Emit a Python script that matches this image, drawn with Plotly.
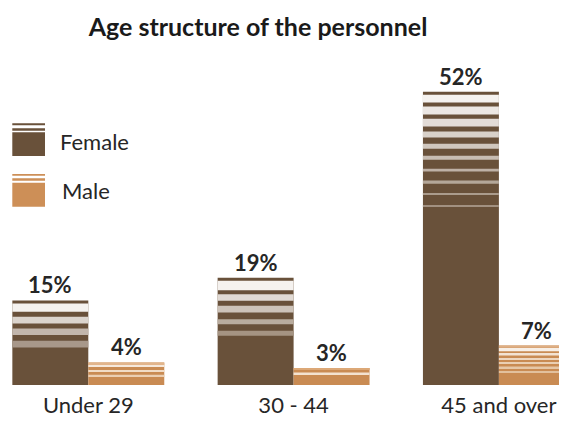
import plotly.graph_objects as go

# ---------------- data ----------------
categories = ["Under 29", "30 - 44", "45 and over"]
series_names = ["Female", "Male"]
female = [15, 19, 52]
male = [4, 3, 7]
female_labels = ["15%", "19%", "52%"]
male_labels = ["4%", "3%", "7%"]

# ---------------- style ----------------
SHIFT = 8                      # browser body margin offsets the figure by 8px
W, H = 567 - SHIFT, 421 - SHIFT
MB, MT = 36, 0
PLOT_H = H - MB - MT
YMAX = PLOT_H / 5.64
U = YMAX / PLOT_H              # data units per pixel (for decorative stripes)
X0_PX = 88.3 - SHIFT           # pixel of first category centre
CAT_PX = 205.3                 # pixels per category
XMIN = -X0_PX / CAT_PX
XMAX = (W - X0_PX) / CAT_PX
BAR_W = 0.37
OFF = 0.185

DARK = "#69513A"
ORANGE = "#C98B53"
TEXT = "#262626"
FONT = "Lato"


def lerp_color(c0, c1, t):
    a = [int(c0[i:i + 2], 16) for i in (1, 3, 5)]
    b = [int(c1[i:i + 2], 16) for i in (1, 3, 5)]
    return "#" + "".join(f"{round(a[k] + (b[k] - a[k]) * t):02X}" for k in range(3))


def grad_bands(offsets, heights, c0, c1):
    n = len(offsets)
    return [(o, h, lerp_color(c0, c1, i / max(n - 1, 1))) for i, (o, h) in enumerate(zip(offsets, heights))]


# decorative stripes: (offset from bar top px, height px, colour)
female_stripes = [
    grad_bands([3, 16.3, 28, 40.3], [8.3, 6.7, 6.7, 6.7], "#F5F2EF", "#A8988A"),
    grad_bands([3, 16.3, 28, 41.3, 53], [9.3, 6.7, 6.7, 5, 5], "#F5F2EF", "#A59483"),
    grad_bands([3, 14.7, 27, 39.7, 52, 64, 77, 88.7, 101.3, 114],
               [7.7, 8, 7.7, 6, 5, 4, 2.7, 3.3, 1.7, 1.2], "#F5F2EF", "#A29181"),
]
male_stripes = [
    [(0, 1.7, "#E2B58C"), (3, 1.3, "#F6E9DC"), (7.7, 1.3, "#F1DCC6"), (12.3, 1.3, "#EBCFB3")],
    [(0, 1.5, "#DCA877"), (4.5, 1.7, "#F3E2D0")],
    [(0, 2.3, "#DEAF85"), (2.4, 3.3, "#F7EFE7"), (7.4, 2.6, "#F3E3D3"), (12.4, 1.7, "#EED7C0"),
     (16.7, 1.7, "#EACFB3"), (21, 1.7, "#E6C7A7"), (25.7, 1.3, "#E2C09D")],
]

fig = go.Figure()


def add_bar(xc, value, color, stripes, name):
    xs = [xc]
    ys = [value]
    bases = [0]
    cols = [color]
    for off, h, c in stripes:
        xs.append(xc)
        ys.append(h * U)
        bases.append(value - (off + h) * U)
        cols.append(c)
    fig.add_trace(go.Bar(
        x=xs, y=ys, base=bases, width=[BAR_W] * len(xs),
        marker=dict(color=cols, line=dict(width=0)),
        name=name, showlegend=False, hoverinfo="skip",
    ))


for i, cat in enumerate(categories):
    add_bar(i - OFF, female[i], DARK, female_stripes[i], series_names[0])
    add_bar(i + OFF, male[i], ORANGE, male_stripes[i], series_names[1])

annotations = []
for i in range(len(categories)):
    for xc, v, lab in ((i - OFF, female[i], female_labels[i]), (i + OFF, male[i], male_labels[i])):
        annotations.append(dict(
            x=xc, y=v, xref="x", yref="y", text=lab, showarrow=False,
            yanchor="bottom", yshift=0,
            font=dict(family=FONT, size=22, color=TEXT, weight="bold"),
        ))


def px(xr):
    return (xr - SHIFT) / W


def py(yr):
    return (PLOT_H + MT - (yr - SHIFT)) / PLOT_H


# manual legend (reference pixel positions)
shapes = []
legend_items = [
    (series_names[0], DARK, [(123.3, 125.3), (128.3, 130.7), (132.3, 156)], 141.5, 58),
    (series_names[1], "#CD8F57", [(174, 175.7), (178.3, 180.7), (182.7, 206.7)], 190, 60),
]
for name, col, rects, ty, tx in legend_items:
    for y0, y1 in rects:
        shapes.append(dict(type="rect", xref="paper", yref="paper",
                           x0=px(12.3), x1=px(45), y0=py(y1), y1=py(y0),
                           fillcolor=col, line=dict(width=0), layer="above"))
    annotations.append(dict(x=px(tx), y=py(ty), xref="paper", yref="paper", text=name,
                            showarrow=False, xanchor="left", yanchor="middle",
                            font=dict(family=FONT, size=22, color=TEXT)))

fig.update_layout(
    width=W, height=H,
    margin=dict(l=0, r=0, t=MT, b=MB, pad=0),
    paper_bgcolor="white", plot_bgcolor="white",
    barmode="overlay",
    title=dict(text="Age structure of the personnel", x=(258 - SHIFT) / W, xref="container",
               xanchor="center", y=1 - (27 - SHIFT) / H, yref="container", yanchor="middle",
               font=dict(family=FONT, size=25, color="#1A1A1A", weight="bold")),
    xaxis=dict(range=[XMIN, XMAX], tickvals=list(range(len(categories))), ticktext=categories,
               showgrid=False, zeroline=False, showline=False, ticks="",
               ticklabelstandoff=5,
               tickfont=dict(family=FONT, size=22, color=TEXT), fixedrange=True),
    yaxis=dict(range=[0, YMAX], showgrid=False, zeroline=False, showline=False,
               showticklabels=False, ticks="", fixedrange=True),
    annotations=annotations,
    shapes=shapes,
    showlegend=False,
)

fig.write_html("out.html", config={"displayModeBar": False})
